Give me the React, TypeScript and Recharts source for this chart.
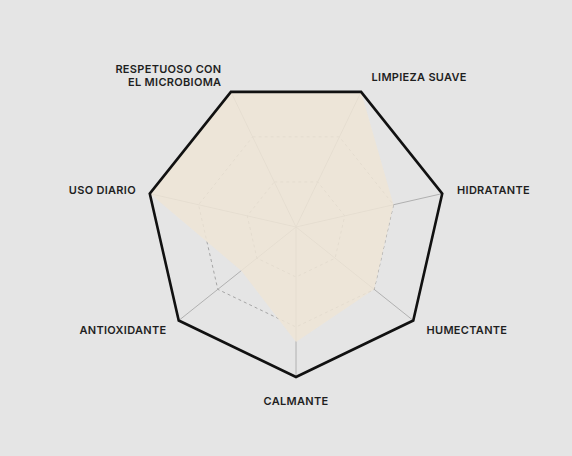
import {
  RadarChart,
  Radar,
  PolarGrid,
  PolarAngleAxis,
  PolarRadiusAxis,
} from 'recharts';

const attributes = [
  'RESPETUOSO CON\nEL MICROBIOMA',
  'LIMPIEZA SUAVE',
  'HIDRATANTE',
  'HUMECTANTE',
  'CALMANTE',
  'ANTIOXIDANTE',
  'USO DIARIO',
];
const scores = [3, 3, 2, 2, 2.3, 1.4, 3];
const scoreDomain: [number, number] = [0, 3];

const data = attributes.map((name, i) => ({ name, score: scores[i] }));

const OUTER_RADIUS = 150;
const START_ANGLE = 90 + 180 / attributes.length;

const AttributeTick = (props: any) => {
  const { x, y, cx, cy, payload } = props;
  const dxRaw = x - cx;
  const dyRaw = y - cy;
  const len = Math.sqrt(dxRaw * dxRaw + dyRaw * dyRaw) || 1;
  const cos = dxRaw / len;
  const sin = -dyRaw / len;
  const anchor = cos > 0.1 ? 'start' : cos < -0.1 ? 'end' : 'middle';
  const dx = cos > 0.1 ? 7 : cos < -0.1 ? -6 : 0;
  const dy = -sin * 8 + (Math.abs(cos) < 0.1 ? 8 : 0);
  const lines = String(payload.value).split('\n');
  const lineHeight = 13;
  const top = y + dy - ((lines.length - 1) * lineHeight) / 2 - (lines.length > 1 ? 1.5 : 0);
  return (
    <text
      textAnchor={anchor}
      fill="#1f1f1f"
      fontSize={11}
      fontWeight={600}
      letterSpacing={0.3}
      fontFamily="Inter, 'Noto Sans', sans-serif"
      dominantBaseline="central"
    >
      {lines.map((line, i) => (
        <tspan key={i} x={x + dx} y={top + i * lineHeight}>
          {line}
        </tspan>
      ))}
    </text>
  );
};

export default function App() {
  return (
    <div
      style={{
        position: 'absolute',
        left: 0,
        top: 0,
        width: 572,
        height: 456,
        background: '#e5e5e5',
      }}
    >
      <RadarChart
        width={572}
        height={456}
        cx={296}
        cy={227}
        outerRadius={OUTER_RADIUS}
        startAngle={START_ANGLE}
        endAngle={START_ANGLE - 360}
        data={data}
      >
        <PolarGrid gridType="polygon" polarRadius={[0]} stroke="#b0b0b0" strokeWidth={1} />
        <PolarGrid
          gridType="polygon"
          radialLines={false}
          stroke="#a5a5a5"
          strokeWidth={1}
          strokeDasharray="3 3"
        />
        <PolarRadiusAxis
          domain={scoreDomain}
          tickCount={4}
          tick={false}
          axisLine={false}
        />
        <Radar
          dataKey="score"
          stroke="none"
          fill="#eee5d6"
          fillOpacity={0.85}
          isAnimationActive={false}
        />
        <PolarAngleAxis
          dataKey="name"
          axisLineType="polygon"
          axisLine={{ stroke: '#111111', strokeWidth: 2.6 }}
          tickLine={false}
          tick={<AttributeTick />}
        />
      </RadarChart>
    </div>
  );
}
